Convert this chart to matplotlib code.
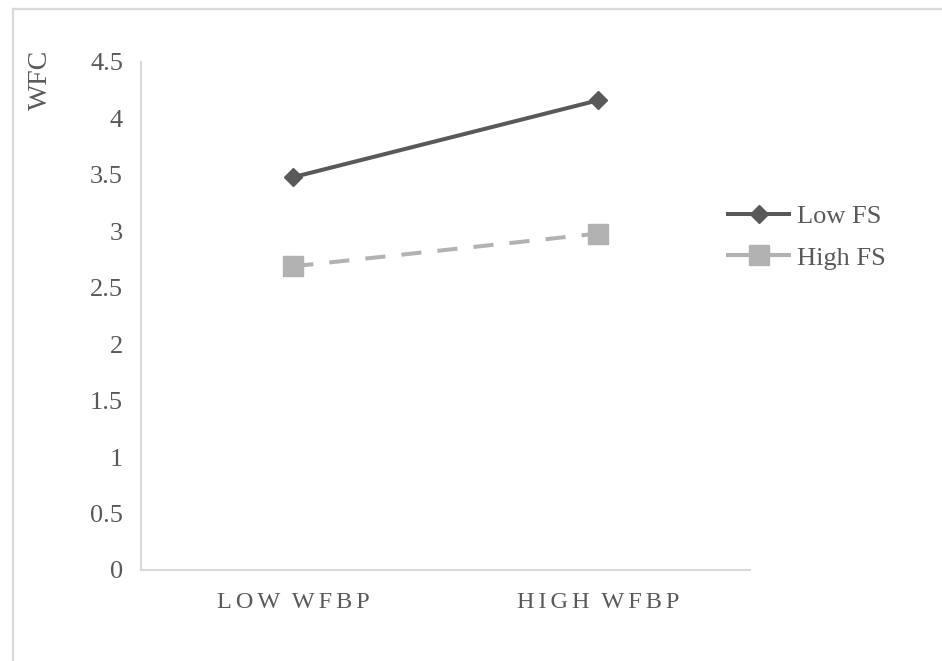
import matplotlib
matplotlib.use('Agg')
import matplotlib.pyplot as plt
from matplotlib.lines import Line2D

categories = ['LOW WFBP', 'HIGH WFBP']
low_fs = [3.48, 4.16]
high_fs = [2.69, 2.98]
y_ticks = [0, 0.5, 1, 1.5, 2, 2.5, 3, 3.5, 4, 4.5]
y_labels = ['0', '0.5', '1', '1.5', '2', '2.5', '3', '3.5', '4', '4.5']

dark = '#595959'
light = '#b2b2b2'
grid_c = '#d9d9d9'

plt.rcParams['font.family'] = ['Liberation Serif', 'DejaVu Serif']

fig = plt.figure(figsize=(9.42, 6.61), dpi=100)
ax = fig.add_axes([141 / 942, 1 - 570 / 661, (750 - 141) / 942, (570 - 62) / 661])

x = list(range(len(categories)))
ax.plot(x, low_fs, color=dark, lw=2.9, marker='D', ms=9.5, label='Low FS')
ax.plot(x, high_fs, color=light, lw=2.9, ls=(0, (5, 4)), marker='s', ms=14, label='High FS')

ax.set_xlim(-0.5, 1.5)
ax.set_ylim(0, 4.5)
ax.set_yticks(y_ticks)
ax.set_yticklabels(y_labels)
ax.set_xticks(x)
# letter-spaced category labels
spaced = ['  '.join('\u2006'.join(w) for w in c.split(' ')) for c in categories]
ax.set_xticklabels(spaced)
ax.tick_params(axis='y', length=0, pad=13, labelsize=19, labelcolor=dark)
ax.tick_params(axis='x', length=0, pad=16, labelsize=17.5, labelcolor=dark)

for s in ['top', 'right']:
    ax.spines[s].set_visible(False)
for s in ['left', 'bottom']:
    ax.spines[s].set_color(grid_c)
    ax.spines[s].set_linewidth(1.5)

fig.text(40 / 942, 1 - 80 / 661, 'WFC', rotation=90, ha='center', va='center',
         fontsize=20, color=dark)

handles = [Line2D([], [], color=dark, lw=2.9, marker='D', ms=9.5),
           Line2D([], [], color=light, lw=2.9, marker='s', ms=14)]
fig.legend(handles, ['Low FS', 'High FS'], loc='center left',
           bbox_to_anchor=(715 / 942, 1 - 237 / 661), frameon=False,
           fontsize=19, handlelength=2.3, handletextpad=0.3, labelspacing=0.7,
           borderpad=0, labelcolor=dark)

# outer chart border (top and left edges visible)
fig.add_artist(Line2D([12.5 / 942, 12.5 / 942], [0, 1 - 8.5 / 661], color=grid_c, lw=1.6,
                      transform=fig.transFigure))
fig.add_artist(Line2D([12.5 / 942, 1], [1 - 8.5 / 661, 1 - 8.5 / 661], color=grid_c, lw=1.6,
                      transform=fig.transFigure))

fig.savefig('out.png', dpi=100)
